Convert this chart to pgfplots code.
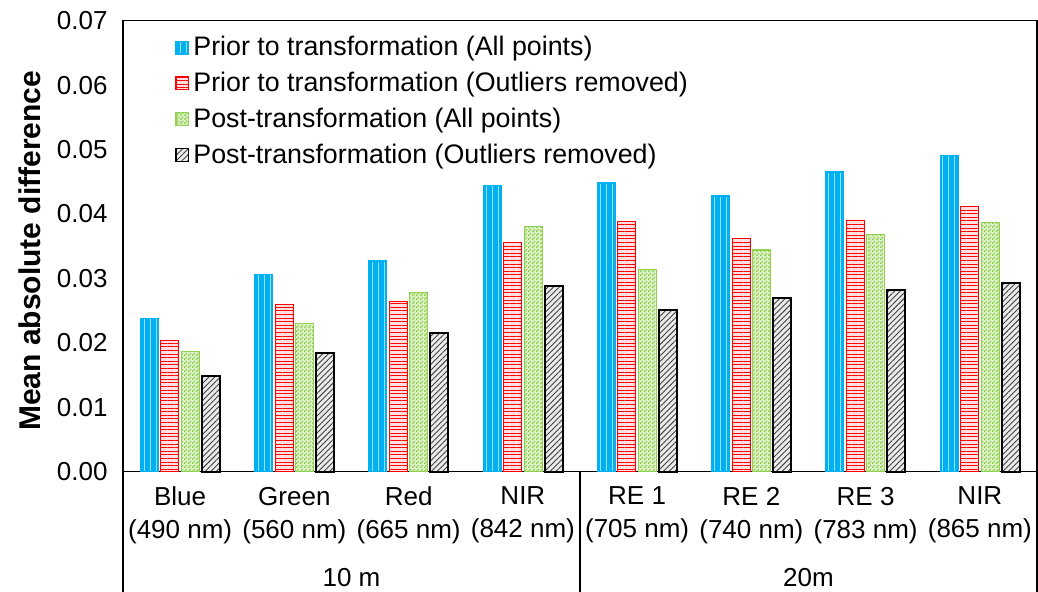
\documentclass[border=0pt]{standalone}
\usepackage{fontspec}
\setmainfont{Liberation Sans}
\usepackage{pgfplots}
\pgfplotsset{compat=1.18}
\usetikzlibrary{patterns,patterns.meta}
\definecolor{cyanc}{HTML}{00B0F0}
\definecolor{redc}{HTML}{FF0000}
\definecolor{greenc}{HTML}{92D050}
\pgfdeclarepatternformonly{smallcheck}{\pgfpointorigin}{\pgfpoint{2pt}{2pt}}{\pgfpoint{2pt}{2pt}}{%
 \pgfpathrectangle{\pgfpointorigin}{\pgfpoint{1pt}{1pt}}%
 \pgfpathrectangle{\pgfpoint{1pt}{1pt}}{\pgfpoint{1pt}{1pt}}%
 \pgfusepath{fill}}
\pgfplotstableread{
x cyan red green black
0 0.0238 0.0203 0.0186 0.0148
1 0.0306 0.0260 0.0230 0.0184
2 0.0327 0.0264 0.0278 0.0216
3 0.0444 0.0356 0.0381 0.0288
4 0.0448 0.0388 0.0314 0.0251
5 0.0428 0.0362 0.0344 0.0270
6 0.0465 0.0390 0.0368 0.0282
7 0.0491 0.0412 0.0387 0.0293
}\datatable
\pgfplotsset{
 mylegend/.style={legend image code/.code={\draw[##1,line width=0.6pt] (0pt,-3.2pt) rectangle (6.4pt,3.2pt);}}
}
\begin{document}
\begin{tikzpicture}
\begin{axis}[
 scale only axis,
 width=457pt, height=225.5pt,
 ybar=1.25pt, bar width=9pt,
 xmin=-0.5, xmax=7.5,
 ymin=0, ymax=0.07,
 clip=false,
 axis line style={line width=0.8pt},
 major tick length=0pt,
 xtick={0,...,7},
 xticklabels={{Blue\\(490 nm)},{Green\\(560 nm)},{Red\\(665 nm)},{NIR\\(842 nm)},{RE 1\\(705 nm)},{RE 2\\(740 nm)},{RE 3\\(783 nm)},{NIR\\(865 nm)}},
 xticklabel style={font=\fontsize{13}{16.5}\selectfont, align=center, anchor=north, inner sep=0pt, yshift=-7.5pt},
 ytick={0,0.01,0.02,0.03,0.04,0.05,0.06,0.07},
 scaled y ticks=false,
 yticklabel style={font=\fontsize{13}{15}\selectfont, anchor=east, inner sep=0pt, xshift=-7.5pt,
   /pgf/number format/.cd, fixed, fixed zerofill, precision=2, assume math mode=true},
 ylabel={\textbf{Mean absolute difference}},
 ylabel style={font=\fontsize{15}{17}\selectfont, at={(axis description cs:-0.1018,0.49)}, anchor=center, rotate=0},
 legend style={draw=none, fill=none, at={(axis description cs:0.0569,0.975)}, anchor=north west,
   font=\fontsize{13.4}{16}\selectfont, row sep=2.7pt, inner sep=0pt},
 legend cell align=left,
]
\addplot[mylegend, draw=cyanc, fill=cyanc, line width=0.6pt,
  postaction={pattern={Lines[angle=90,distance=3pt,line width=0.5pt]}, pattern color=white!60!cyanc}]
  table[x=x,y=cyan]{\datatable};
\addlegendentry{Prior to transformation (All points)}
\addplot[mylegend, draw=redc, fill=red!12, line width=0.6pt,
  postaction={pattern={Lines[angle=0,distance=1.8pt,line width=0.55pt]}, pattern color=redc}]
  table[x=x,y=red]{\datatable};
\addlegendentry{Prior to transformation (Outliers removed)}
\addplot[mylegend, draw=greenc, fill=greenc!30, line width=0.6pt,
  postaction={pattern=smallcheck, pattern color=greenc}]
  table[x=x,y=green]{\datatable};
\addlegendentry{Post-transformation (All points)}
\addplot[mylegend, draw=black, fill=black!8, line width=1pt,
  postaction={pattern={Lines[angle=45,distance=2pt,line width=0.45pt]}, pattern color=black!75}]
  table[x=x,y=black]{\datatable};
\addlegendentry{Post-transformation (Outliers removed)}
\coordinate (bl) at (rel axis cs:0,0);
\coordinate (tr) at (rel axis cs:1,1);
\coordinate (br) at (rel axis cs:1,0);
\coordinate (bm) at (rel axis cs:0.5,0);
\node[font=\fontsize{13}{15.6}\selectfont, anchor=center] at ([yshift=-53pt]axis cs:1.5,0) {10 m};
\node[font=\fontsize{13}{15.6}\selectfont, anchor=center] at ([yshift=-53pt]axis cs:5.5,0) {20m};
\end{axis}
\draw[line width=0.6pt] (bl) -- ++(0,-60pt);
\draw[line width=0.6pt] (bm) -- ++(0,-60pt);
\draw[line width=0.6pt] (br) -- ++(0,-60pt);
\pgfresetboundingbox
\path[use as bounding box] ([shift={(-61.5pt,-60pt)}]bl) rectangle ([shift={(0.5pt,10.35pt)}]tr);
\end{tikzpicture}
\end{document}
